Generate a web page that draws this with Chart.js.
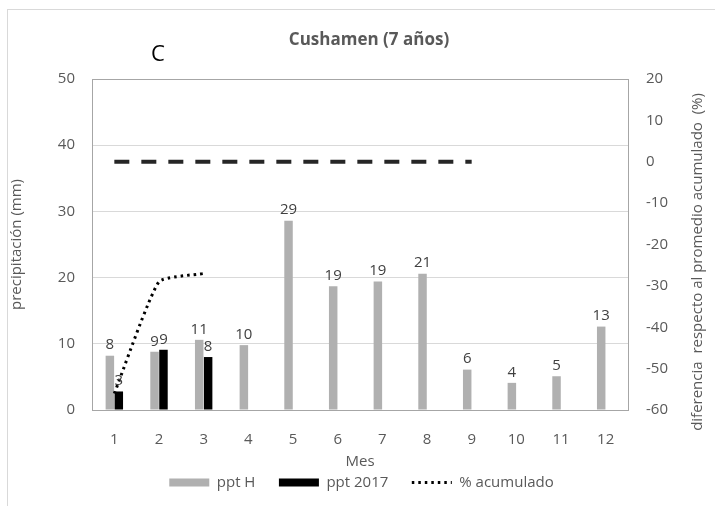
<!DOCTYPE html>
<html>
<head>
<meta charset="utf-8">
<script src="https://cdn.jsdelivr.net/npm/chart.js@4.4.1/dist/chart.umd.min.js"></script>
<style>
  html, body { margin: 0; padding: 0; background: #fff; }
  #wrap { position: relative; width: 715px; height: 506px; overflow: hidden; }
  #frame { position: absolute; left: 7px; top: 9px; width: 800px; height: 600px;
           border-left: 1px solid #d9d9d9; border-top: 1px solid #d9d9d9; }
  canvas { position: absolute; left: 0; top: 0; }
</style>
</head>
<body>
<div id="wrap">
  <div id="frame"></div>
  <canvas id="chart" width="715" height="506"></canvas>
</div>
<script>
// months
const meses = ["1", "2", "3", "4", "5", "6", "7", "8", "9", "10", "11", "12"];
// historical monthly precipitation (mm)
const pptH = [8.2, 8.8, 10.6, 9.8, 28.6, 18.7, 19.4, 20.6, 6.1, 4.1, 5.1, 12.6];
// 2017 precipitation (mm)
const ppt2017 = [2.8, 9.1, 8.0, null, null, null, null, null, null, null, null, null];
// % difference of accumulated vs mean
const acumulado = [-56, -29, -27, null, null, null, null, null, null, null, null, null];
// reference line at 0 %
const referencia = [0, 0, 0, 0, 0, 0, 0, 0, 0, null, null, null];

const leftTicks = [0, 10, 20, 30, 40, 50];
const rightTicks = [-60, -50, -40, -30, -20, -10, 0, 10, 20];

const FONT = "'Open Sans', sans-serif";
const GREY_TXT = "#595959";

/** ---------------- value labels above bars ---------------- **/
const barLabels = {
  id: "barLabels",
  afterDraw(chart) {
    const ctx = chart.ctx;
    ctx.save();
    ctx.font = "15px " + FONT;
    ctx.fillStyle = "#404040";
    ctx.textAlign = "center";
    ctx.textBaseline = "bottom";
    chart.data.datasets.forEach((ds, i) => {
      if (ds.type !== "bar") return;
      const meta = chart.getDatasetMeta(i);
      meta.data.forEach((bar, j) => {
        const v = ds.data[j];
        if (v === null || v === undefined) return;
        ctx.fillText(String(Math.round(v)), bar.x, bar.y - 3);
      });
    });
    ctx.restore();
  }
};

/** ---------------- plot frame + extra texts ---------------- **/
const frame = {
  id: "frame",
  beforeDatasetsDraw(chart) {
    const a = chart.chartArea;
    const ctx = chart.ctx;
    ctx.save();
    ctx.strokeStyle = "#a6a6a6";
    ctx.lineWidth = 1;
    ctx.strokeRect(Math.round(a.left) + 0.5, Math.round(a.top) + 0.5,
                   Math.round(a.right - a.left), Math.round(a.bottom - a.top));
    ctx.restore();
  },
  afterDraw(chart) {
    const ctx = chart.ctx;
    ctx.save();
    ctx.textAlign = "center";
    ctx.textBaseline = "middle";
    ctx.fillStyle = GREY_TXT;
    ctx.font = "bold 17px " + FONT;
    ctx.fillText("Cushamen (7 años)", 369, 40);
    ctx.fillStyle = "#000";
    ctx.font = "22px " + FONT;
    ctx.fillText("C", 158, 55);
    // right axis title, reads bottom to top like Excel
    ctx.fillStyle = GREY_TXT;
    ctx.font = "15px " + FONT;
    ctx.translate(698, 262);
    ctx.rotate(-Math.PI / 2);
    ctx.fillText("diferencia  respecto al promedio acumulado  (%)", 0, 0);
    ctx.restore();
  }
};

const ctx = document.getElementById("chart");

new Chart(ctx, {
  data: {
    labels: meses,
    datasets: [
      {
        type: "bar",
        label: "ppt H",
        data: pptH,
        backgroundColor: "#b0b0b0",
        yAxisID: "y",
        categoryPercentage: 0.4,
        barPercentage: 0.95,
        order: 2
      },
      {
        type: "bar",
        label: "ppt 2017",
        data: ppt2017,
        backgroundColor: "#000000",
        yAxisID: "y",
        categoryPercentage: 0.4,
        barPercentage: 0.95,
        order: 2
      },
      {
        type: "line",
        label: "% acumulado",
        data: acumulado,
        borderColor: "#000",
        borderWidth: 3,
        borderDash: [2.5, 4],
        pointRadius: 0,
        tension: 0.15,
        yAxisID: "y1",
        order: 1
      },
      {
        type: "line",
        label: "ref",
        data: referencia,
        borderColor: "#262626",
        borderWidth: 4,
        borderDash: [15, 12],
        pointRadius: 0,
        yAxisID: "y1",
        order: 0
      }
    ]
  },
  options: {
    responsive: false,
    animation: false,
    layout: { padding: { left: 8, right: 0, top: 79, bottom: 6 } },
    plugins: {
      title: { display: false },
      tooltip: { enabled: false },
      legend: {
        position: "bottom",
        labels: {
          color: GREY_TXT,
          font: { size: 15, family: FONT },
          usePointStyle: true,
          pointStyleWidth: 40,
          boxHeight: 8,
          padding: 4,
          sort: (a, b) => a.datasetIndex - b.datasetIndex,
          generateLabels(chart) {
            const items = Chart.defaults.plugins.legend.labels.generateLabels(chart);
            return items.filter(it => it.datasetIndex !== 3).map(it => {
              if (it.datasetIndex === 2) {
                it.pointStyle = "line";
                it.lineWidth = 3;
                it.lineDash = [2.5, 4];
              } else {
                it.pointStyle = "rect";
                it.lineWidth = 0;
                it.text = it.text + "     "; // wider gap between items
              }
              return it;
            });
          }
        }
      }
    },
    scales: {
      x: {
        grid: { display: false },
        border: { color: "#bfbfbf" },
        ticks: { color: GREY_TXT, font: { size: 15, family: FONT }, padding: 13 },
        title: { display: true, text: "Mes", color: GREY_TXT, font: { size: 15, family: FONT }, padding: { top: 0, bottom: 0 } },
        afterFit(s) { s.height = 61; }
      },
      y: {
        position: "left",
        min: 0,
        max: 50,
        afterBuildTicks(s) { s.ticks = leftTicks.map(v => ({ value: v })); },
        grid: { color: "#d9d9d9", drawTicks: false },
        border: { display: false },
        ticks: { color: GREY_TXT, font: { size: 15, family: FONT }, padding: 17 },
        title: { display: true, text: "precipitación (mm)", color: GREY_TXT, font: { size: 15, family: FONT }, padding: 0 },
        afterFit(s) { s.width = 84; }
      },
      y1: {
        position: "right",
        min: -60,
        max: 20,
        afterBuildTicks(s) { s.ticks = rightTicks.map(v => ({ value: v })); },
        grid: { drawOnChartArea: false, drawTicks: false },
        border: { display: false },
        ticks: { color: GREY_TXT, font: { size: 15, family: FONT }, padding: 18 },
        title: { display: false },
        afterFit(s) { s.width = 87; }
      }
    }
  },
  plugins: [frame, barLabels]
});
</script>
</body>
</html>
